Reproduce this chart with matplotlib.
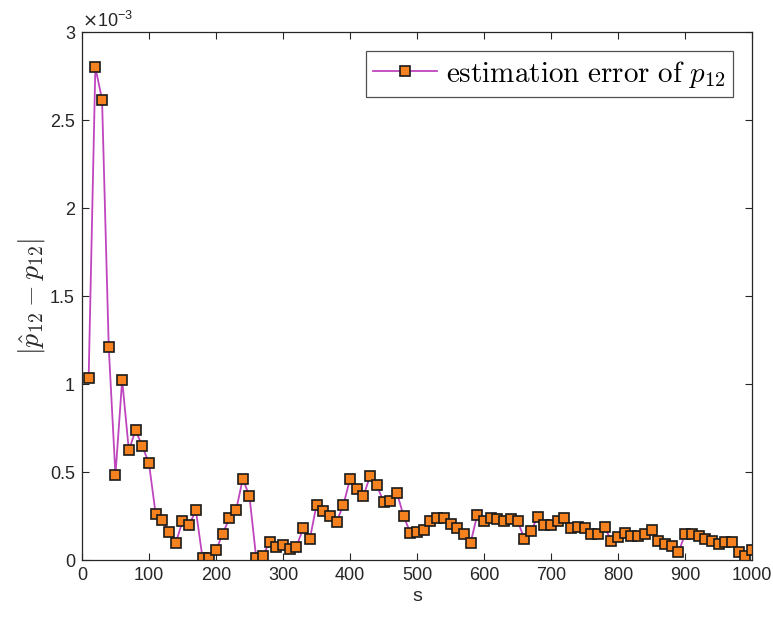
import matplotlib
matplotlib.use("Agg")
import matplotlib.pyplot as plt
import numpy as np

plt.rcParams['mathtext.fontset'] = 'cm'
plt.rcParams['font.family'] = ['Liberation Sans', 'DejaVu Sans']

s = list(range(10, 1001, 10))
# estimation error, in units of 1e-3
err_e3 = [
    1.033, 2.801, 2.618, 1.209, 0.484, 1.024, 0.624, 0.738, 0.648, 0.551,
    0.262, 0.228, 0.159, 0.098, 0.220, 0.201, 0.283, 0.010, 0.010, 0.055,
    0.150, 0.238, 0.283, 0.463, 0.362, 0.013, 0.022, 0.104, 0.076, 0.085,
    0.066, 0.076, 0.180, 0.119, 0.313, 0.278, 0.250, 0.218, 0.313, 0.460,
    0.407, 0.364, 0.479, 0.426, 0.331, 0.337, 0.383, 0.250, 0.155, 0.161,
    0.174, 0.225, 0.242, 0.242, 0.208, 0.180, 0.146, 0.100, 0.259, 0.225,
    0.242, 0.235, 0.225, 0.235, 0.225, 0.121, 0.163, 0.248, 0.201, 0.201,
    0.220, 0.239, 0.182, 0.191, 0.182, 0.148, 0.148, 0.186, 0.110, 0.129,
    0.157, 0.140, 0.140, 0.148, 0.172, 0.106, 0.091, 0.078, 0.044, 0.148,
    0.148, 0.138, 0.119, 0.110, 0.091, 0.102, 0.102, 0.049, 0.023, 0.059,
]
x_ticks = list(range(0, 1001, 100))
y_ticks = [0, 0.5, 1, 1.5, 2, 2.5, 3]
y_ticklabels = ['0', '0.5', '1', '1.5', '2', '2.5', '3']

fig = plt.figure(figsize=(7.73, 6.21), dpi=100)
ax = fig.add_axes([0.106, 0.098, 0.867, 0.850])

ax.plot(s, err_e3, color='#BF45BF', lw=1.3, marker='s', markersize=7,
        markerfacecolor='#F5821F', markeredgecolor='#1a1a1a', markeredgewidth=1.2,
        label=r'$\mathrm{estimation\ error\ of\ }p_{12}$')

ax.set_xlim(0, 1000)
ax.set_ylim(0, 3)
ax.set_xticks(x_ticks)
ax.set_yticks(y_ticks)
ax.set_yticklabels(y_ticklabels)
ax.tick_params(direction='in', top=True, right=True, labelsize=13, length=5, width=0.8,
               colors='#262626', pad=5)
for sp in ax.spines.values():
    sp.set_linewidth(0.9)
    sp.set_color('#262626')

ax.set_xlabel('s', fontsize=14, color='#262626', labelpad=3)
ax.set_ylabel(r'$|\hat{p}_{12}-p_{12}|$', fontsize=20, color='#262626', labelpad=2)
ax.text(0.0, 1.003, r'$\times\mathregular{10^{-3}}$', transform=ax.transAxes, fontsize=13,
        ha='left', va='bottom', color='#262626', math_fontfamily='dejavusans')

leg = ax.legend(loc='upper right', fontsize=21, handlelength=2.2, frameon=True,
                fancybox=False, edgecolor='#262626', borderpad=0.25,
                borderaxespad=0.65, handletextpad=0.3)
leg.get_frame().set_linewidth(0.9)

fig.savefig('out.png', dpi=100)
